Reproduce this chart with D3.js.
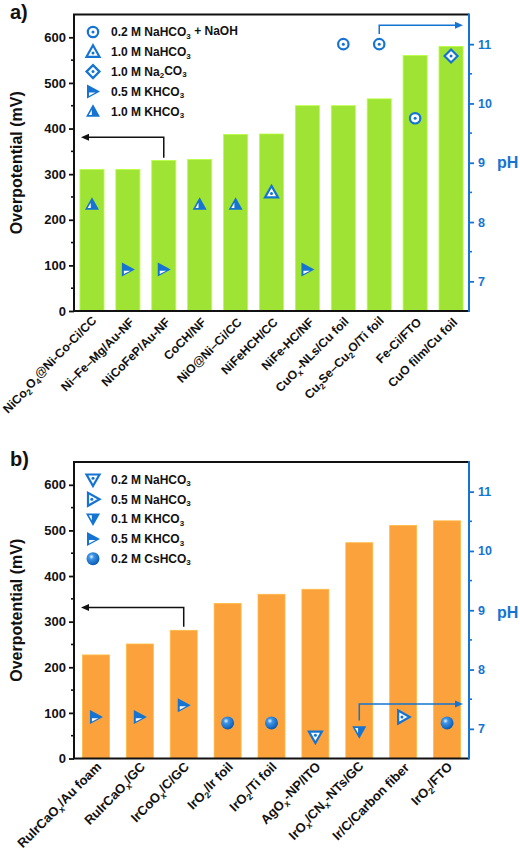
<!DOCTYPE html>
<html><head><meta charset="utf-8">
<script src="https://cdn.jsdelivr.net/npm/d3@7/dist/d3.min.js"></script>
<style>
body{margin:0;background:#fff;}
svg{display:block;font-family:"Liberation Sans",Arial,sans-serif;font-weight:bold;}
</style></head>
<body>
<svg id="chart" width="520" height="854"></svg>
<script>
// ---------- DATA ----------
const categoriesA = ["NiCo_2O_4@Ni-Co-Ci/CC","Ni–Fe–Mg/Au-NF","NiCoFeP/Au-NF","CoCH/NF","NiO@Ni–Ci/CC","NiFeHCH/CC","NiFe-HC/NF","CuO_x-NLs/Cu foil","Cu_2Se–Cu_2O/Ti foil","Fe-Ci/FTO","CuO film/Cu foil"];
const overpotentialA = [310,310,330,332,387,388,450,450,465,560,580];
const phA = [8.3,7.2,7.2,8.3,8.3,8.5,7.2,11.0,11.0,9.75,10.8];
const markerA = ["upHalf","rightHalf","rightHalf","upHalf","upHalf","upDot","rightHalf","circleDot","circleDot","circleDot","diamondDot"];
const legendLabelsA = ["0.2 M NaHCO_3 + NaOH","1.0 M NaHCO_3","1.0 M Na_2CO_3","0.5 M KHCO_3","1.0 M KHCO_3"];
const legendMarkersA = ["circleDot","upDot","diamondDot","rightHalf","upHalf"];

const categoriesB = ["RuIrCaO_x/Au foam","RuIrCaO_x/GC","IrCoO_x/C/GC","IrO_2/Ir foil","IrO_2/Ti foil","AgO_x-NP/ITO","IrO_x/CN_x-NTs/GC","Ir/C/Carbon fiber","IrO_2/FTO"];
const overpotentialB = [227,251,281,340,360,371,473,511,521];
const phB = [7.2,7.2,7.4,7.1,7.1,6.87,6.95,7.2,7.1];
const markerB = ["rightHalf","rightHalf","rightHalf","sphere","sphere","downDot","downHalf","rightDot","sphere"];
const legendLabelsB = ["0.2 M NaHCO_3","0.5 M NaHCO_3","0.1 M KHCO_3","0.5 M KHCO_3","0.2 M CsHCO_3"];
const legendMarkersB = ["downDot","rightDot","downHalf","rightHalf","sphere"];

const yTicks = [0,100,200,300,400,500,600];
const yMinor = [50,150,250,350,450,550];
const phTicks = [7,8,9,10,11];
const phMinor = [7.5,8.5,9.5,10.5];

// arrows: left arrow (bar index, from value, to value) ; right arrow (bar index, from pH, to pH)
const arrowsA = {left:{bar:2, from:336, to:381}, right:{bar:8, from:11.17, to:11.32}};
const arrowsB = {left:{bar:2, from:289, to:331}, right:{bar:6, from:7.14, to:7.42}};

// ---------- STYLE ----------
const BLUE = "#1574d2";
const GREEN = "#9fe334";
const ORANGE = "#fba23c";
const svg = d3.select("#chart");
const defs = svg.append("defs");
const grad = defs.append("radialGradient").attr("id","sph").attr("cx","38%").attr("cy","35%").attr("r","65%");
grad.append("stop").attr("offset","0%").attr("stop-color","#e8f4ff");
grad.append("stop").attr("offset","30%").attr("stop-color","#3e94e6");
grad.append("stop").attr("offset","100%").attr("stop-color","#0a5cb4");

function richText(sel, str, subSize){
  const parts = [];
  let i=0, buf="";
  while(i<str.length){
    if(str[i]==="_" ){ if(buf){parts.push({t:buf,s:false});buf="";} parts.push({t:str[i+1],s:true}); i+=2; }
    else { buf+=str[i]; i++; }
  }
  if(buf) parts.push({t:buf,s:false});
  let sub=false;
  parts.forEach(p=>{
    const ts = sel.append("tspan").text(p.t);
    if(p.s && !sub){ ts.attr("dy","0.3em").attr("font-size",subSize); sub=true; }
    else if(p.s){ ts.attr("font-size",subSize); }
    else if(!p.s && sub){ ts.attr("dy","-0.3em"); sub=false; }
  });
}

function drawMarker(g, type, x, y){
  const m = g.append("g").attr("transform",`translate(${x},${y})`);
  if(type==="circleDot"){
    m.append("circle").attr("r",5.2).attr("fill","#fff").attr("stroke",BLUE).attr("stroke-width",2.2);
    m.append("circle").attr("r",1.5).attr("fill",BLUE);
  } else if(type==="diamondDot"){
    m.append("path").attr("d","M0,-6.5L6.5,0L0,6.5L-6.5,0Z").attr("fill","#fff").attr("stroke",BLUE).attr("stroke-width",2.2);
    m.append("circle").attr("r",1.5).attr("fill",BLUE);
  } else if(type==="upDot"){
    m.append("path").attr("d","M0,-6.5L6.5,5L-6.5,5Z").attr("fill","#fff").attr("stroke",BLUE).attr("stroke-width",2.2);
    m.append("circle").attr("cy",1.2).attr("r",1.5).attr("fill",BLUE);
  } else if(type==="downDot"){
    m.append("path").attr("d","M0,6.5L6.5,-5L-6.5,-5Z").attr("fill","#fff").attr("stroke",BLUE).attr("stroke-width",2.2);
    m.append("circle").attr("cy",-1.2).attr("r",1.5).attr("fill",BLUE);
  } else if(type==="rightDot"){
    m.append("path").attr("d","M6.5,0L-5,-6.5L-5,6.5Z").attr("fill","#fff").attr("stroke",BLUE).attr("stroke-width",2.2);
    m.append("circle").attr("cx",-1.2).attr("r",1.5).attr("fill",BLUE);
  } else if(type==="upHalf"){
    m.append("path").attr("d","M0,-7L7,5.5L-7,5.5Z").attr("fill",BLUE);
    m.append("path").attr("d","M-1.2,-1.5L-1.2,3.8L-4.2,3.8Z").attr("fill","#fff");
  } else if(type==="downHalf"){
    m.append("path").attr("d","M0,7L7,-5.5L-7,-5.5Z").attr("fill",BLUE);
    m.append("path").attr("d","M-1.2,1.5L-1.2,-3.8L-4.2,-3.8Z").attr("fill","#fff");
  } else if(type==="rightHalf"){
    m.append("path").attr("d","M7,0L-6,-7L-6,7Z").attr("fill",BLUE);
    m.append("path").attr("d","M-4,1.2L2.5,1.2L-4,4.6Z").attr("fill","#fff");
  } else if(type==="sphere"){
    m.append("circle").attr("r",6.5).attr("fill","url(#sph)");
  }
}

const L = 74, R = 469;

function panel(cfg){
  const {top,bottom,cats,vals,ph,marks,legL,legM,color,arrows,label,pad,labDy,phDy,labFont} = cfg;
  const g = svg.append("g");
  const x = d3.scaleBand().domain(cats).range([L,R]).paddingInner(pad).paddingOuter(pad/2);
  const y = d3.scaleLinear().domain([0,650]).range([bottom,top]);
  const yp = d3.scaleLinear().domain([6.5,11.5]).range([bottom,top]);

  // bars
  g.selectAll("rect.bar").data(cats).join("rect").attr("class","bar")
    .attr("x",d=>x(d)).attr("width",x.bandwidth())
    .attr("y",(d,i)=>y(vals[i])).attr("height",(d,i)=>y(0)-y(vals[i]))
    .attr("fill",color).attr("stroke",d3.color(color).brighter(0.4)).attr("stroke-width",0.8);

  // left axis
  const ax = g.append("g").attr("transform",`translate(${L},0)`)
    .call(d3.axisLeft(y).tickValues(yTicks).tickSize(5).tickPadding(3).tickSizeOuter(0));
  ax.select(".domain").remove();
  ax.selectAll("line").attr("stroke","#111").attr("stroke-width",1.8);
  ax.selectAll("text").attr("font-size",13).attr("font-weight","bold").attr("fill","#111").attr("font-family","Liberation Sans, Arial, sans-serif");
  g.selectAll("line.ymin").data(yMinor).join("line").attr("class","ymin")
    .attr("x1",L-3).attr("x2",L).attr("y1",d=>y(d)).attr("y2",d=>y(d)).attr("stroke","#111").attr("stroke-width",1.6);

  // right axis
  const axr = g.append("g").attr("transform",`translate(${R},0)`)
    .call(d3.axisRight(yp).tickValues(phTicks).tickSize(5).tickPadding(4).tickFormat(d3.format("d")));
  axr.select(".domain").remove();
  axr.selectAll("line").attr("stroke",BLUE).attr("stroke-width",1.8);
  axr.selectAll("text").attr("font-size",12.5).attr("font-weight","bold").attr("fill",BLUE).attr("font-family","Liberation Sans, Arial, sans-serif");
  g.selectAll("line.pmin").data(phMinor).join("line").attr("class","pmin")
    .attr("x1",R).attr("x2",R+3).attr("y1",d=>yp(d)).attr("y2",d=>yp(d)).attr("stroke",BLUE).attr("stroke-width",1.6);

  // frame
  g.append("path").attr("d",`M${L},${bottom}L${L},${top}L${R},${top}`).attr("fill","none").attr("stroke","#111").attr("stroke-width",2);
  g.append("line").attr("x1",L-1).attr("x2",R).attr("y1",bottom).attr("y2",bottom).attr("stroke","#111").attr("stroke-width",2);
  g.append("line").attr("x1",R).attr("x2",R).attr("y1",top-1).attr("y2",bottom+1).attr("stroke",BLUE).attr("stroke-width",2);

  // x labels
  cats.forEach(c=>{
    const t = g.append("text").attr("text-anchor","end").attr("font-size",labFont).attr("fill","#111")
      .attr("transform",`translate(${x(c)+x.bandwidth()/2+7},${bottom+labDy}) rotate(-45)`);
    richText(t,c,labFont*0.68);
  });

  // markers
  cats.forEach((c,i)=> drawMarker(g, marks[i], x(c)+x.bandwidth()/2, yp(ph[i])));

  // legend
  legL.forEach((l,i)=>{
    const yy = top+17.5+i*19.8;
    drawMarker(g, legM[i], 93, yy);
    const t = g.append("text").attr("x",111).attr("y",yy+4.3).attr("font-size",12).attr("fill","#111");
    richText(t,l,8);
  });

  // arrows
  const la = arrows.left, cx1 = x(cats[la.bar])+x.bandwidth()/2;
  g.append("path").attr("d",`M${cx1},${y(la.from)}L${cx1},${y(la.to)}L${L+12},${y(la.to)}`).attr("fill","none").attr("stroke","#111").attr("stroke-width",1.5);
  g.append("path").attr("d",`M${L+7},${y(la.to)}l8,-3.5l0,7z`).attr("fill","#111");
  const ra = arrows.right, cx2 = x(cats[ra.bar])+x.bandwidth()/2;
  g.append("path").attr("d",`M${cx2},${yp(ra.from)}L${cx2},${yp(ra.to)}L${R-12},${yp(ra.to)}`).attr("fill","none").attr("stroke",BLUE).attr("stroke-width",1.5);
  g.append("path").attr("d",`M${R-6},${yp(ra.to)}l-8,-3.5l0,7z`).attr("fill",BLUE);

  // titles
  g.append("text").attr("transform",`translate(22,${(top+bottom)/2}) rotate(-90)`).attr("text-anchor","middle")
    .attr("font-size",16).attr("fill","#111").text("Overpotential (mV)");
  g.append("text").attr("x",497).attr("y",yp(9)+phDy).attr("font-size",16).attr("fill",BLUE).text("pH");
  g.append("text").attr("x",10).attr("y",top+4).attr("font-size",20).attr("fill","#111").text(label);
}

panel({top:14.5,bottom:311,cats:categoriesA,vals:overpotentialA,ph:phA,marks:markerA,legL:legendLabelsA,legM:legendMarkersA,color:GREEN,arrows:arrowsA,label:"a)",pad:0.33,labDy:12,phDy:5,labFont:12.2});
panel({top:462,bottom:758.5,cats:categoriesB,vals:overpotentialB,ph:phB,marks:markerB,legL:legendLabelsB,legM:legendMarkersB,color:ORANGE,arrows:arrowsB,label:"b)",pad:0.385,labDy:10,phDy:7.5,labFont:13});
</script>
</body></html>
